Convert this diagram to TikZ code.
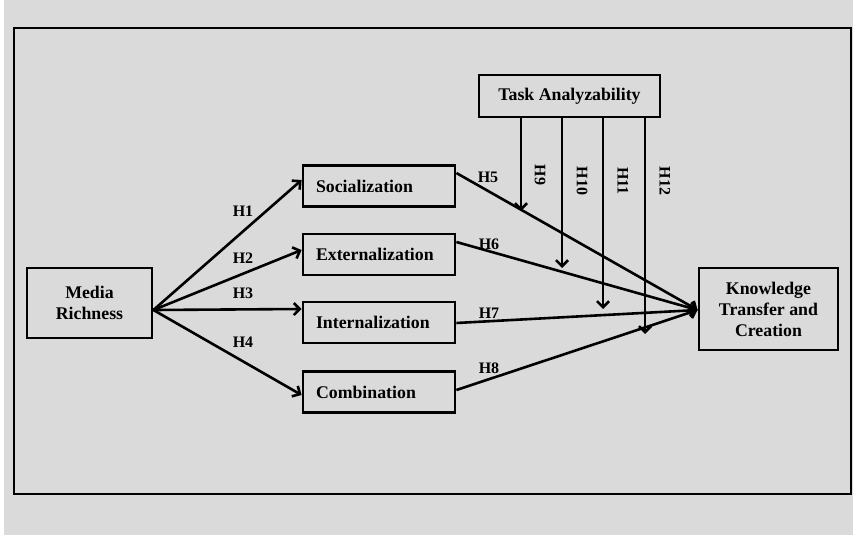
\documentclass[tikz,border=0pt]{standalone}
\usepackage{fontspec}
\setmainfont{Liberation Serif}
\usetikzlibrary{arrows.meta}
\definecolor{paper}{HTML}{DADADA}
\begin{document}
\begin{tikzpicture}[x=1pt,y=-1pt,
  box/.style={draw, line width=2.8pt, fill=paper, inner sep=0pt,
    font=\bfseries\fontsize{17.8}{21}\selectfont},
  stage/.style={box, minimum width=152, minimum height=41, text width=126,
    align=left},
  link/.style={line width=2.6pt, -{Straight Barb[length=6pt,width=12pt]}},
  hyp/.style={font=\bfseries\fontsize{16}{18}\selectfont},
]
% canvas and outer frame
\fill[white] (0,0) rectangle (853,535);
\fill[paper] (4,0) rectangle (853,535);
\draw[line width=2.6pt] (14,28) rectangle (851,494);
\useasboundingbox (0,0) rectangle (853,535);

% nodes
\node[box, minimum width=125, minimum height=70, align=center] (mr) at (89.5,303) {Media\\Richness};
\node[stage] (soc) at (379,186) {Socialization};
\node[stage] (ext) at (379,254.5) {Externalization};
\node[stage] (int) at (379,322.5) {Internalization};
\node[stage] (com) at (379,392) {Combination};
\node[box, minimum width=181, minimum height=42] (ta) at (569.5,96) {Task Analyzability};
\node[box, minimum width=139, minimum height=82, align=center] (kt) at (768.5,309) {Knowledge\\Transfer and\\Creation};

% media richness to the four modes
\coordinate (src) at ([yshift=-7]mr.east);
\draw[link] (src) -- ([yshift=6]soc.west);
\draw[link] (src) -- ([yshift=4.5]ext.west);
\draw[link] (src) -- ([yshift=13.5]int.west);
\draw[link] (src) -- ([yshift=-3]com.west);

% modes to knowledge transfer and creation
\coordinate (dst) at ([yshift=-1]kt.west);
\draw[link] ([yshift=13]soc.east) -- (dst);
\draw[link] ([yshift=12.5]ext.east) -- (dst);
\draw[link] ([yshift=-0.5]int.east) -- (dst);
\draw[link] ([yshift=2]com.east) -- (dst);

% moderating arrows from task analyzability
\coordinate (t9) at (521,211);
\coordinate (t10) at (562,268);
\coordinate (t11) at (603,309);
\coordinate (t12) at (645,334);
\foreach \t in {t9,t10,t11,t12}
  \draw[link] (ta.south -| \t) -- (\t);

% hypothesis labels
\node[hyp] (h1) at (243,211) {H1};
\node[hyp] (h2) at (243,258) {H2};
\node[hyp] (h3) at (243,293) {H3};
\node[hyp] (h4) at (243,342) {H4};
\node[hyp] (h5) at (488,177) {H5};
\node[hyp] (h6) at (489,244) {H6};
\node[hyp] (h7) at (489,313) {H7};
\node[hyp] (h8) at (489,368) {H8};
\node[hyp, rotate=-90] (h9) at (540,175) {H9};
\node[hyp, rotate=-90] (h10) at (582,181) {H10};
\node[hyp, rotate=-90] (h11) at (623,181) {H11};
\node[hyp, rotate=-90] (h12) at (665,181) {H12};
\end{tikzpicture}
\end{document}
